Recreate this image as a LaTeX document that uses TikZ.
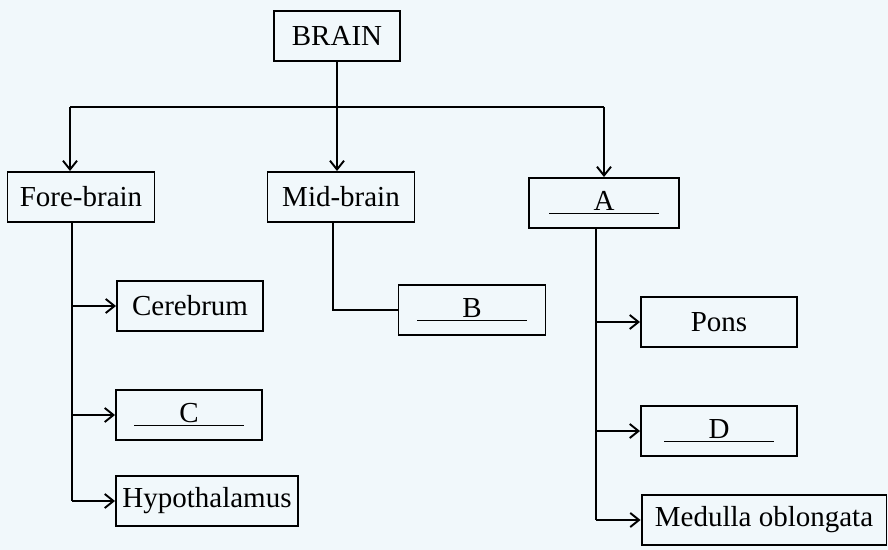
\documentclass[tikz,border=0pt]{standalone}
\usepackage{fontspec}
\setmainfont{Liberation Serif}
\usetikzlibrary{arrows.meta}

\definecolor{paper}{RGB}{241,248,251}
\newcommand{\blank}[1]{\underline{\makebox[2.2cm]{#1}}}

\begin{document}
\begin{tikzpicture}[x=0.02cm,y=-0.02cm,
    box/.style={draw,line width=1.1pt,minimum height=1cm,inner sep=1pt,
      font=\fontsize{16.5}{18}\selectfont},
    link/.style={line width=1.1pt},
    arr/.style={link,-{Straight Barb[length=5pt,width=8pt]}}]
    % Paper
    \fill[paper] (0,0) rectangle (888,550);
    \useasboundingbox (0,0) rectangle (888,550);

    % Top box
    \node[box,minimum width=2.52cm] (brain) at (337,36) {BRAIN};

    % Three parts
    \node[box,minimum width=2.94cm] (fore) at (81,197) {Fore-brain};
    \node[box,minimum width=2.94cm] (mid) at (341,197) {Mid-brain};
    \node[box,minimum width=3cm] (hind) at (604,203) {\blank{A}};

    % Fore-brain parts
    \node[box,minimum width=2.92cm] (cere) at (190,306) {Cerebrum};
    \node[box,minimum width=2.92cm] (partc) at (189,415) {\blank{C}};
    \node[box,minimum width=3.64cm] (hypo) at (207,501) {Hypothalamus};

    % Mid-brain part
    \node[box,minimum width=2.94cm] (partb) at (472,310) {\blank{B}};

    % Hind-brain parts
    \node[box,minimum width=3.12cm] (pons) at (719,322) {Pons};
    \node[box,minimum width=3.12cm] (partd) at (719,431) {\blank{D}};
    \node[box,minimum width=4.9cm] (medu) at (764,520) {Medulla oblongata};

    % Split line under BRAIN
    \coordinate (split) at (337,107);
    \coordinate (splitl) at (70,107);
    \coordinate (splitr) at (604,107);
    \draw[link] (brain.south) -- (split);
    \draw[link] (splitl) -- (splitr);
    \draw[arr] (splitl) -- (splitl |- fore.north);
    \draw[arr] (split) -- (split |- mid.north);
    \draw[arr] (splitr) -- (splitr |- hind.north);

    % Fore-brain trunk
    \coordinate (foret) at (72,222);
    \draw[link] (foret) -- (foret |- hypo.west);
    \draw[arr] (foret |- cere.west) -- (cere.west);
    \draw[arr] (foret |- partc.west) -- (partc.west);
    \draw[arr] (foret |- hypo.west) -- (hypo.west);

    % Mid-brain branch
    \coordinate (midt) at (333,222);
    \draw[link] (midt) -- (midt |- partb.west) -- (partb.west);

    % Hind-brain trunk
    \coordinate (hindt) at (596,228);
    \draw[link] (hindt) -- (hindt |- medu.west);
    \draw[arr] (hindt |- pons.west) -- (pons.west);
    \draw[arr] (hindt |- partd.west) -- (partd.west);
    \draw[arr] (hindt |- medu.west) -- (medu.west);
\end{tikzpicture}
\end{document}
